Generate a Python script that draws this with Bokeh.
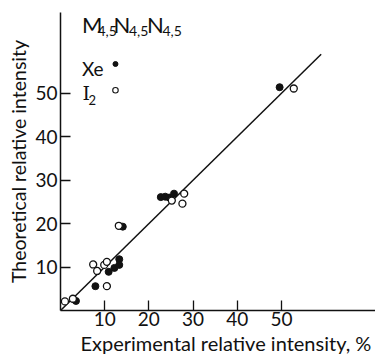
from bokeh.plotting import figure
from bokeh.models import Range1d, FixedTicker, Label, Title
from bokeh.embed import file_html
from bokeh.resources import INLINE

# Auger line intensities, M4,5N4,5N4,5 group
xe_exp = [3.5, 7.9, 10.9, 12.2, 13.3, 13.3, 14.1, 22.7, 23.7, 24.6, 25.7, 49.6]
xe_theo = [2.2, 5.6, 8.9, 9.8, 11.8, 10.5, 19.3, 26.1, 26.2, 26.0, 26.9, 51.4]
i2_exp = [1.0, 2.8, 7.4, 8.3, 9.9, 10.5, 10.5, 13.2, 25.2, 28.0, 27.6, 52.8]
i2_theo = [2.1, 2.7, 10.6, 9.1, 10.5, 11.2, 5.6, 19.5, 25.3, 26.9, 24.6, 51.1]
diag = [0, 59]
ticks = [10, 20, 30, 40, 50]

FONT = "Lato"
INK = "#111111"

p = figure(width=375, height=354, output_backend="svg", toolbar_location=None,
           x_range=Range1d(0, 71.3), y_range=Range1d(0, 68.6),
           min_border_left=60, min_border_right=0, min_border_top=12,
           min_border_bottom=0)
p.outline_line_color = None
p.xgrid.visible = False
p.ygrid.visible = False
p.background_fill_color = "white"

for ax in (p.xaxis[0], p.yaxis[0]):
    ax.ticker = FixedTicker(ticks=ticks)
    ax.minor_tick_line_color = None
    ax.major_tick_in = 10
    ax.major_tick_out = 0
    ax.major_tick_line_color = INK
    ax.major_tick_line_width = 1.3
    ax.axis_line_color = INK
    ax.axis_line_width = 1.5
    ax.major_label_text_font = FONT
    ax.major_label_text_font_size = "19px"
    ax.major_label_text_color = INK
    ax.major_label_standoff = 3
    ax.axis_label_text_font = FONT
    ax.axis_label_text_font_style = "normal"
    ax.axis_label_text_color = INK

p.xaxis.major_label_standoff = 1
p.yaxis.axis_label = "Theoretical relative intensity"
p.yaxis.axis_label_text_font_size = "19.5px"
p.yaxis.axis_label_standoff = 2

# x title as a panel below the axis
p.add_layout(Title(text="Experimental relative intensity, %", align="left",
                   text_font=FONT, text_font_size="20px",
                   text_font_style="normal", text_color=INK,
                   standoff=0, offset=20), "below")

# y = x reference line
p.line(diag, diag, line_color=INK, line_width=1.5)

p.scatter(xe_exp, xe_theo, size=7, fill_color=INK, line_color=INK)
p.scatter(i2_exp, i2_theo, size=7, fill_color="white", line_color=INK,
          line_width=1.3)

# heading and key, placed in data units
sx = 4.42  # px per unit along x
sy = 4.30  # px per unit along y

def lab(px, py, text, size, font=FONT, align="left"):
    # py is the baseline in pixels; lift by the renderer's baseline offset
    lift = 0.4 * size
    p.add_layout(Label(x=(px - 60) / sx, y=(307.3 - py + lift) / sy, text=text,
                       text_font=font, text_font_size=f"{size}px",
                       text_color=INK, text_baseline="alphabetic",
                       text_align=align))

lab(81.5, 33, "M", 22)
lab(97, 36, "4,5", 14)
lab(113, 33, "N", 22)
lab(128.5, 36, "4,5", 14)
lab(146.5, 33, "N", 22)
lab(162, 36, "4,5", 14)

lab(81.5, 75, "Xe", 19)
lab(82, 100, "I", 19, "DejaVu Serif")
lab(88, 104, "2", 13)

p.scatter([(115 - 60) / sx], [(307.3 - 63.3) / sy], size=5, fill_color=INK,
          line_color=INK)
p.scatter([(115 - 60) / sx], [(307.3 - 89.3) / sy], size=5.5, fill_color="white",
          line_color=INK, line_width=1.1)

open("out.html", "w").write(file_html(p, INLINE))
